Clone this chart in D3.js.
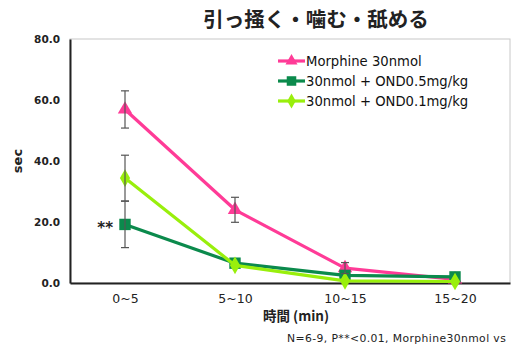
<!DOCTYPE html>
<html>
<head>
<meta charset="utf-8">
<script src="https://cdn.jsdelivr.net/npm/d3@7"></script>
<style>
  html, body { margin: 0; padding: 0; background: #fff; }
  svg { display: block; }
</style>
</head>
<body>
<svg id="chart" width="511" height="348"></svg>
<script>
// Time windows after injection
const categories = ["0~5", "5~10", "10~15", "15~20"];

// Mean duration (sec) per window and standard error
const morphineMean = [56.9, 24.0, 4.9, 1.2];
const morphineErr  = [6.1, 4.1, 1.8, 0];
const ond05Mean    = [19.2, 6.5, 2.5, 2.0];
const ond05Err     = [7.6, 0, 0, 0];
const ond01Mean    = [34.4, 5.8, 0.7, 0.5];
const ond01Err     = [7.5, 0, 0, 0];

const seriesNames = ["Morphine 30nmol", "30nmol + OND0.5mg/kg", "30nmol + OND0.1mg/kg"];
const yTicks = [0, 20, 40, 60, 80];

const series = [
  { name: seriesNames[0], mean: morphineMean, err: morphineErr, color: "#ff3b97", symbol: d3.symbolTriangle, size: 90 },
  { name: seriesNames[1], mean: ond05Mean,    err: ond05Err,    color: "#0b8a4c", symbol: d3.symbolSquare,   size: 130 },
  { name: seriesNames[2], mean: ond01Mean,    err: ond01Err,    color: "#99ef0c", symbol: d3.symbolDiamond,  size: 90 }
];

const svg = d3.select("#chart");
const margin = { left: 70, right: 1, top: 39, bottom: 65 };
const W = 511, H = 348;

const x = d3.scalePoint().domain(categories).range([margin.left, W - margin.right]).padding(0.5);
const y = d3.scaleLinear().domain([0, 80]).range([H - margin.bottom, margin.top]);

// Plot frame (light top/right edges)
svg.append("rect")
  .attr("x", margin.left).attr("y", margin.top)
  .attr("width", W - margin.right - margin.left)
  .attr("height", H - margin.bottom - margin.top)
  .attr("fill", "none").attr("stroke", "#c8c8c8").attr("stroke-width", 1);

// Y axis
const yAxis = svg.append("g")
  .attr("transform", `translate(${margin.left},0)`)
  .call(d3.axisLeft(y).tickValues(yTicks).tickFormat(d3.format(".1f")).tickSize(0).tickPadding(10));
yAxis.select(".domain").attr("stroke", "#222").attr("stroke-width", 2);
yAxis.selectAll("text")
  .attr("font-family", "'DejaVu Sans', sans-serif")
  .attr("font-weight", "bold")
  .attr("font-size", 10.5)
  .attr("fill", "#222");

// X axis
const xAxis = svg.append("g")
  .attr("transform", `translate(0,${y(0)})`)
  .call(d3.axisBottom(x).tickSize(0).tickPadding(11));
xAxis.select(".domain").attr("stroke", "#222").attr("stroke-width", 2);
xAxis.selectAll("text")
  .attr("font-family", "'DejaVu Sans', sans-serif")
  .attr("font-size", 12.5)
  .attr("fill", "#222");

// Series lines and markers
const line = d3.line().x((d, i) => x(categories[i])).y(d => y(d));
series.forEach(s => {
  svg.append("path")
    .datum(s.mean)
    .attr("d", line)
    .attr("fill", "none")
    .attr("stroke", s.color)
    .attr("stroke-width", 3.2)
    .attr("stroke-linejoin", "round");
  svg.selectAll(null)
    .data(s.mean)
    .enter().append("path")
    .attr("d", d3.symbol().type(s.symbol).size(s.size))
    .attr("transform", (d, i) => `translate(${x(categories[i])},${y(d)})`)
    .attr("fill", s.color);
});

// Error bars
series.forEach(s => {
  s.mean.forEach((m, i) => {
    const e = s.err[i];
    if (!e) return;
    const cx = x(categories[i]);
    const g = svg.append("g").attr("stroke", "#555").attr("stroke-width", 1.2);
    g.append("line").attr("x1", cx).attr("x2", cx).attr("y1", y(m + e)).attr("y2", y(m - e));
    g.append("line").attr("x1", cx - 4).attr("x2", cx + 4).attr("y1", y(m + e)).attr("y2", y(m + e));
    g.append("line").attr("x1", cx - 4).attr("x2", cx + 4).attr("y1", y(m - e)).attr("y2", y(m - e));
  });
});

// Significance mark
svg.append("text")
  .attr("x", x(categories[0]) - 12).attr("y", y(ond05Mean[0]) + 9)
  .attr("text-anchor", "end")
  .attr("font-family", "'DejaVu Sans', sans-serif")
  .attr("font-weight", "bold")
  .attr("font-size", 15)
  .attr("fill", "#222")
  .text("**");

// Legend
const legend = svg.append("g").attr("transform", "translate(278,61)");
series.forEach((s, i) => {
  const g = legend.append("g").attr("transform", `translate(0,${i * 20})`);
  g.append("line").attr("x1", 0).attr("x2", 27).attr("y1", 0).attr("y2", 0)
    .attr("stroke", s.color).attr("stroke-width", 3.2);
  g.append("path")
    .attr("d", d3.symbol().type(s.symbol).size(s.size * 0.7))
    .attr("transform", "translate(13.5,0)")
    .attr("fill", s.color);
  g.append("text")
    .attr("x", 28).attr("y", 4.5)
    .attr("font-family", "'DejaVu Sans', sans-serif")
    .attr("font-size", 13.2)
    .attr("fill", "#111")
    .text(s.name);
});

// Title
svg.append("text")
  .attr("x", 316).attr("y", 27)
  .attr("text-anchor", "middle")
  .attr("font-family", "'Noto Sans CJK JP', sans-serif")
  .attr("font-weight", "bold")
  .attr("font-size", 20.5)
  .attr("fill", "#222")
  .text("引っ掻く・噛む・舐める");

// Axis titles
svg.append("text")
  .attr("transform", `translate(22,${(margin.top + H - margin.bottom) / 2}) rotate(-90)`)
  .attr("text-anchor", "middle")
  .attr("font-family", "'DejaVu Sans', sans-serif")
  .attr("font-weight", "bold")
  .attr("font-size", 13)
  .attr("fill", "#222")
  .text("sec");

svg.append("text")
  .attr("x", 296).attr("y", 321)
  .attr("text-anchor", "middle")
  .attr("font-family", "'Noto Sans CJK JP', sans-serif")
  .attr("font-weight", "bold")
  .attr("font-size", 13.5)
  .attr("fill", "#222")
  .text("時間 (min)");

// Footnote
svg.append("text")
  .attr("x", 287).attr("y", 342)
  .attr("font-family", "'DejaVu Sans', sans-serif")
  .attr("font-size", 10.8)
  .attr("letter-spacing", 0.4)
  .attr("fill", "#222")
  .text("N=6-9, P**<0.01, Morphine30nmol vs");
</script>
</body>
</html>
